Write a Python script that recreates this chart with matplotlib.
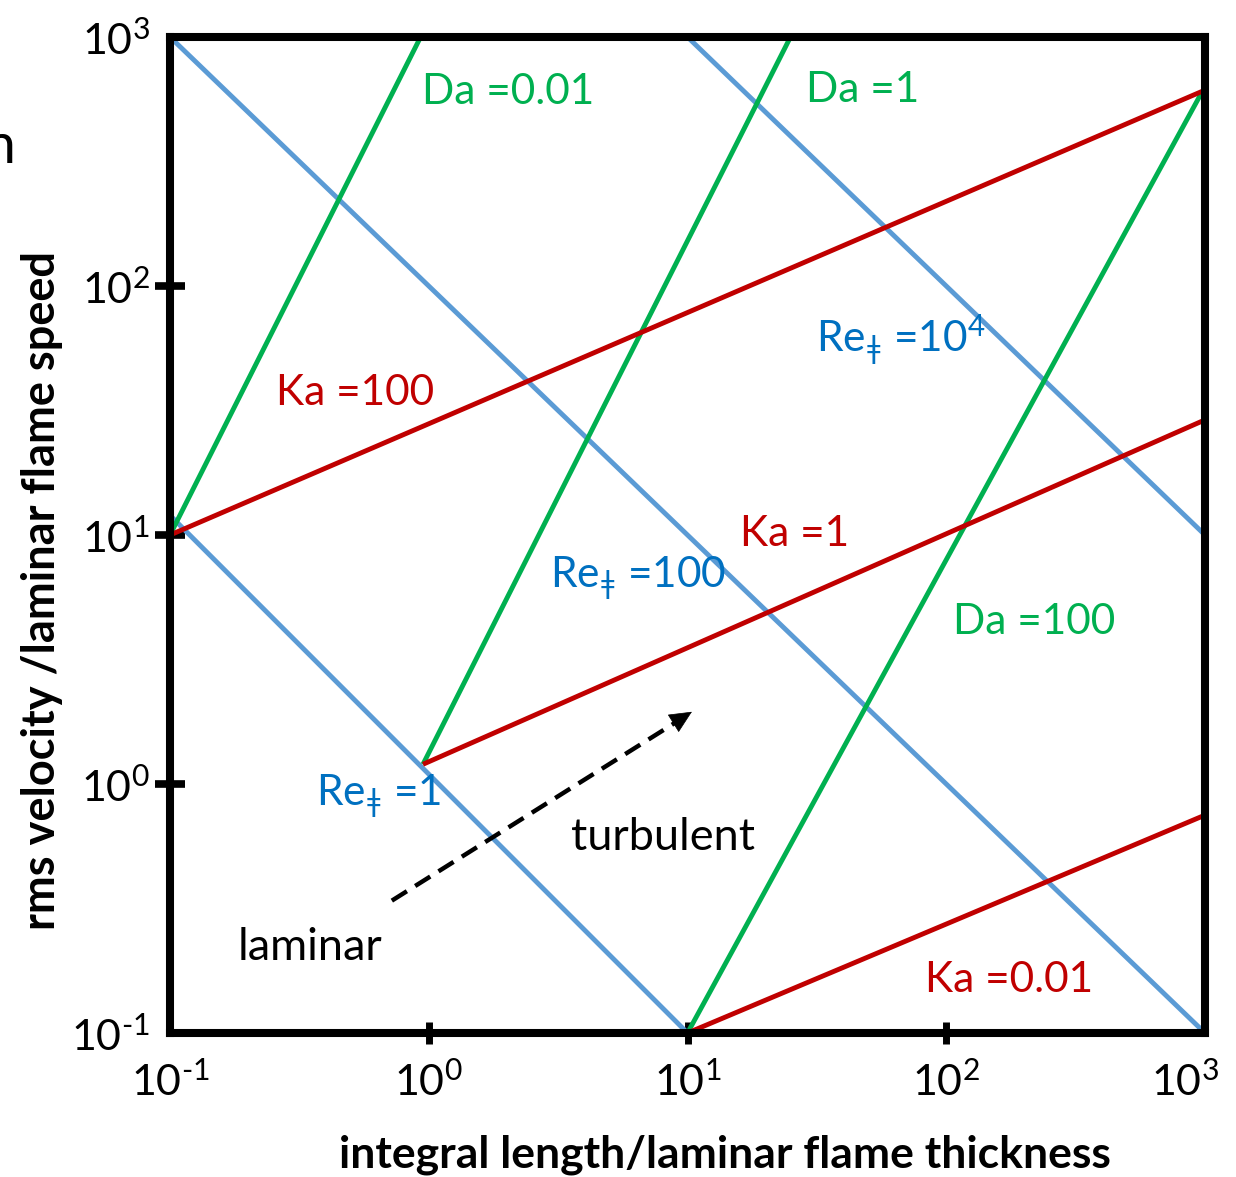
import matplotlib
matplotlib.use("Agg")
import matplotlib.pyplot as plt
import matplotlib.transforms as mtransforms
import numpy as np

plt.rcParams['font.family'] = ['Lato', 'DejaVu Sans']
plt.rcParams['mathtext.fontset'] = 'custom'
plt.rcParams['mathtext.rm'] = 'Lato'
plt.rcParams['mathtext.it'] = 'Lato'
plt.rcParams['mathtext.bf'] = 'Lato:bold'

# ---- data ----
# Reynolds lines (blue)
re_names = ["Re=1", "Re=100", "Re=1e4"]
re_x = [[0.1, 10.0], [0.1, 1000.0], [10.0, 1000.0]]
re_y = [[12.0, 0.1], [1000.0, 0.1], [1000.0, 10.0]]
# Damkohler lines (green)
da_names = ["Da=0.01", "Da=1", "Da=100"]
da_x = [[0.1, 0.93], [0.95, 25.0], [10.0, 975.0]]
da_y = [[10.0, 1000.0], [1.2, 1000.0], [0.1, 603.0]]
# Karlovitz lines (red)
ka_names = ["Ka=100", "Ka=1", "Ka=0.01"]
ka_x = [[0.1, 1000.0], [0.95, 1000.0], [10.0, 1000.0]]
ka_y = [[10.0, 612.0], [1.2, 29.0], [0.1, 0.75]]
# regime arrow (laminar -> turbulent)
arrow_x = [0.72, 10.4]
arrow_y = [0.34, 1.95]

ticks = [0.1, 1, 10, 100, 1000]
tick_labels = ['$\\mathregular{10^{\u2010 1}}$', r'$\mathregular{10^{0}}$', r'$\mathregular{10^{1}}$',
               r'$\mathregular{10^{2}}$', r'$\mathregular{10^{3}}$']

BLUE_L = '#5B9BD5'
BLUE_T = '#0070C0'
GREEN = '#00B050'
RED = '#C00000'

W, H = 1236, 1177
fig = plt.figure(figsize=(W / 100, H / 100), dpi=100)
L, R, T, B = 170, 1205, 37, 1033
ax = fig.add_axes([L / W, 1 - B / H, (R - L) / W, (B - T) / H])
ax.set_xscale('log')
ax.set_yscale('log')
ax.set_xlim(0.1, 1000)
ax.set_ylim(0.1, 1000)

lw = 3.5
for xs, ys in zip(re_x, re_y):
    ax.plot(xs, ys, color=BLUE_L, lw=lw, solid_capstyle='butt', clip_on=False, zorder=2)
for xs, ys in zip(da_x, da_y):
    ax.plot(xs, ys, color=GREEN, lw=lw, solid_capstyle='butt', clip_on=False, zorder=3)
for xs, ys in zip(ka_x, ka_y):
    ax.plot(xs, ys, color=RED, lw=lw, solid_capstyle='butt', clip_on=False, zorder=4)

# dashed arrow
ax.plot([arrow_x[0], arrow_x[1] * 0.9], [arrow_y[0], arrow_y[1] * 0.93],
        color='black', lw=3.2, ls=(0, (4, 2.2)), zorder=5)
ax.annotate('', xy=(arrow_x[1], arrow_y[1]),
            xytext=(arrow_x[1] * 0.85, arrow_y[1] * 0.9),
            arrowprops=dict(arrowstyle='-|>,head_length=1.5,head_width=0.7',
                            color='black', lw=0.5, shrinkA=0, shrinkB=0), zorder=6)

for s in ax.spines.values():
    s.set_linewidth(5.8)
    s.set_zorder(10)

ax.set_xticks(ticks)
ax.set_xticklabels(tick_labels)
ax.set_yticks(ticks)
ax.set_yticklabels(tick_labels)
ax.minorticks_off()
ax.tick_params(axis='y', direction='inout', length=21, width=5.5, pad=4, labelsize=31)
ax.tick_params(axis='x', direction='inout', length=16, width=5.0, pad=12, labelsize=31)
for axis in (ax.xaxis, ax.yaxis):
    mt = axis.get_major_ticks()
    mt[0].tick1line.set_visible(False)
    mt[-1].tick1line.set_visible(False)
# shift the last x label left so it stays inside the figure, as in the reference
lab = ax.get_xticklabels()[-1]
lab.set_transform(lab.get_transform() + mtransforms.ScaledTranslation(-20 / 100, 0, fig.dpi_scale_trans))

def fx(px):
    return (px - L) / (R - L)

def fy(py):
    return (B - py) / (B - T)

fs = 30.5
fs2 = 32.5
sub = r'$_{\mathregular{ǂ}}$'
texts = [
    ("Da =0.01", 422, 104, GREEN, fs),
    ("Da =1", 806, 102, GREEN, fs),
    ("Re" + sub + r" =10$^{\mathregular{4}}$", 816, 352, BLUE_T, fs),
    ("Ka =100", 276, 405, RED, fs),
    ("Ka =1", 740, 546, RED, fs),
    ("Re" + sub + " =100", 550, 587, BLUE_T, fs),
    ("Da =100", 953, 634, GREEN, fs),
    ("Re" + sub + " =1", 316, 805, BLUE_T, fs),
    ("turbulent", 571, 850, 'black', fs2),
    ("laminar", 238, 960, 'black', fs2),
    ("Ka =0.01", 925, 992, RED, fs),
]
for s, px, py, c, f in texts:
    ax.text(fx(px), fy(py), s, transform=ax.transAxes, color=c, fontsize=f,
            ha='left', va='baseline', zorder=7)

fig.text(725 / W, 1 - 1155 / H, 'integral length/laminar flame thickness',
         fontsize=32, fontweight='bold', ha='center', va='center')
fig.text(42 / W, 1 - 590 / H, 'rms velocity /laminar flame speed',
         fontsize=32.5, fontweight='bold', ha='center', va='center', rotation=90)
fig.text(15 / W, 1 - 163 / H, 'n', fontsize=40, ha='right', va='baseline')

fig.savefig('out.png', dpi=100)
